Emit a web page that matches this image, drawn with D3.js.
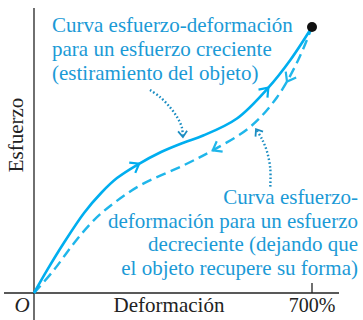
<!DOCTYPE html>
<html>
<head>
<meta charset="utf-8">
<style>
    body { margin: 0; background: #fff; }
    text { font-family: "Liberation Serif", "DejaVu Serif", serif; }
</style>
<script src="https://d3js.org/d3.v7.min.js"></script>
</head>
<body>
<svg width="363" height="320"></svg>
<script>

// deformación (%) and esfuerzo (arbitrary units, 0-100)
var loadX   = [0, 33, 75, 126, 169, 209, 259, 320, 378, 426, 511, 589, 645, 700];
var loadY   = [0, 8.6, 18.8, 30.1, 37.6, 43.2, 48.1, 53.0, 56.6, 59.2, 65.6, 77.0, 87.5, 100];
var unloadX = [0, 50, 101, 151, 201, 269, 378, 451, 544, 612, 665, 700];
var unloadY = [0, 8.6, 18.8, 27.4, 33.8, 40.6, 48.1, 53.7, 62.4, 73.6, 87.5, 100];

// where the direction arrows sit (deformación %)
var loadArrows   = [265, 590];
var unloadArrows = [450, 637];

// pointer lines from the notes to the curves
var pointerA = [[292, 76.3], [317, 73.7], [342, 69.9], [360, 66.2], [372, 62.4], [375, 58.6]];
var pointerB = [[595, 40], [595, 46.6], [587, 53], [574, 57.9], [559, 61.6]];

var xTicks = [700];
var xTickLabels = ["700%"];

var svg = d3.select("svg");
var x = d3.scaleLinear().domain([0, 700]).range([34, 312]);
var y = d3.scaleLinear().domain([0, 100]).range([293, 27]);

var blue = "#00aeef", dashBlue = "#1fb6ea", textBlue = "#1b9ad6", dotBlue = "#1a8dc2";

// axes
svg.append("line").attr("x1", x(0)).attr("x2", x(0)).attr("y1", 8).attr("y2", 320)
    .attr("stroke", "#222").attr("stroke-width", 1.3);
svg.append("line").attr("x1", 4).attr("x2", 339).attr("y1", y(0)).attr("y2", y(0))
    .attr("stroke", "#222").attr("stroke-width", 1.3);

svg.selectAll(".tick").data(xTicks).enter().append("line")
    .attr("x1", d => x(d)).attr("x2", d => x(d))
    .attr("y1", y(0) - 10).attr("y2", y(0))
    .attr("stroke", "#222").attr("stroke-width", 1.3);

svg.selectAll(".ticklabel").data(xTicks).enter().append("text")
    .attr("x", d => x(d)).attr("y", 312).attr("text-anchor", "middle")
    .attr("font-size", 20).attr("fill", "#222")
    .text((d, i) => xTickLabels[i]);

svg.append("text").attr("x", 22).attr("y", 312).attr("text-anchor", "middle")
    .attr("font-size", 21).attr("font-style", "italic").attr("fill", "#222").text("O");
svg.append("text").attr("x", 169).attr("y", 312).attr("text-anchor", "middle")
    .attr("font-size", 21).attr("fill", "#222").text("Deformación");
svg.append("text").attr("transform", "translate(23,135) rotate(-90)")
    .attr("text-anchor", "middle").attr("font-size", 21).attr("fill", "#222").text("Esfuerzo");

var line = d3.line().x(d => x(d[0])).y(d => y(d[1])).curve(d3.curveCatmullRom.alpha(0.5));

var loadPts = loadX.map((v, i) => [v, loadY[i]]);
var unloadPts = unloadX.map((v, i) => [v, unloadY[i]]);

var unloadPath = svg.append("path").datum(unloadPts).attr("d", line)
    .attr("fill", "none").attr("stroke", dashBlue).attr("stroke-width", 2.4)
    .attr("stroke-dasharray", "10,5.5");
var loadPath = svg.append("path").datum(loadPts).attr("d", line)
    .attr("fill", "none").attr("stroke", blue).attr("stroke-width", 2.6);

// chevron arrow at the point of the path nearest a given x, pointing along travel
function arrowAt(path, xv, reverse, color, size) {
    var node = path.node(), len = node.getTotalLength(), best = 0, bd = 1e9;
    for (var l = 0; l <= len; l += 0.5) {
        var p = node.getPointAtLength(l);
        if (Math.abs(p.x - x(xv)) < bd) { bd = Math.abs(p.x - x(xv)); best = l; }
    }
    var p0 = node.getPointAtLength(Math.max(0, best - 2)), p1 = node.getPointAtLength(Math.min(len, best + 2));
    var a = Math.atan2(p1.y - p0.y, p1.x - p0.x) * 180 / Math.PI + (reverse ? 180 : 0);
    var c = node.getPointAtLength(best);
    svg.append("path")
        .attr("d", "M" + (-size) + "," + (-size * 0.75) + "L0,0L" + (-size) + "," + (size * 0.75))
        .attr("transform", "translate(" + c.x + "," + c.y + ") rotate(" + a + ")")
        .attr("fill", "none").attr("stroke", color).attr("stroke-width", 2.2)
        .attr("stroke-linejoin", "miter");
}
loadArrows.forEach(v => arrowAt(loadPath, v, false, blue, 8));
unloadArrows.forEach(v => arrowAt(unloadPath, v, true, dashBlue, 8));

// end dot
svg.append("circle").attr("cx", x(700)).attr("cy", y(100)).attr("r", 5).attr("fill", "#111");

// dotted pointers
var pline = d3.line().x(d => x(d[0])).y(d => y(d[1])).curve(d3.curveCatmullRom);
[pointerA, pointerB].forEach(function(pts) {
    var p = svg.append("path").datum(pts).attr("d", pline)
        .attr("fill", "none").attr("stroke", dotBlue).attr("stroke-width", 2.4)
        .attr("stroke-dasharray", "1.6,2.2");
    var n = p.node(), len = n.getTotalLength();
    var a0 = n.getPointAtLength(len - 3), a1 = n.getPointAtLength(len);
    var ang = Math.atan2(a1.y - a0.y, a1.x - a0.x) * 180 / Math.PI;
    svg.append("path").attr("d", "M-6,-4.5L0,0L-6,4.5")
        .attr("transform", "translate(" + a1.x + "," + a1.y + ") rotate(" + ang + ")")
        .attr("fill", "none").attr("stroke", dotBlue).attr("stroke-width", 1.8);
});

// notes
var noteTop = ["Curva esfuerzo-deformación", "para un esfuerzo creciente", "(estiramiento del objeto)"];
var noteBottom = ["Curva esfuerzo-", "deformación para un esfuerzo", "decreciente (dejando que", "el objeto recupere su forma)"];

svg.selectAll(".nt").data(noteTop).enter().append("text")
    .attr("x", 52).attr("y", (d, i) => 32 + i * 24)
    .attr("font-size", 21).attr("fill", textBlue).text(d => d);
svg.selectAll(".nb").data(noteBottom).enter().append("text")
    .attr("x", 358).attr("y", (d, i) => 204 + i * 23.5).attr("text-anchor", "end")
    .attr("font-size", 21).attr("fill", textBlue).text(d => d);

</script>
</body>
</html>
